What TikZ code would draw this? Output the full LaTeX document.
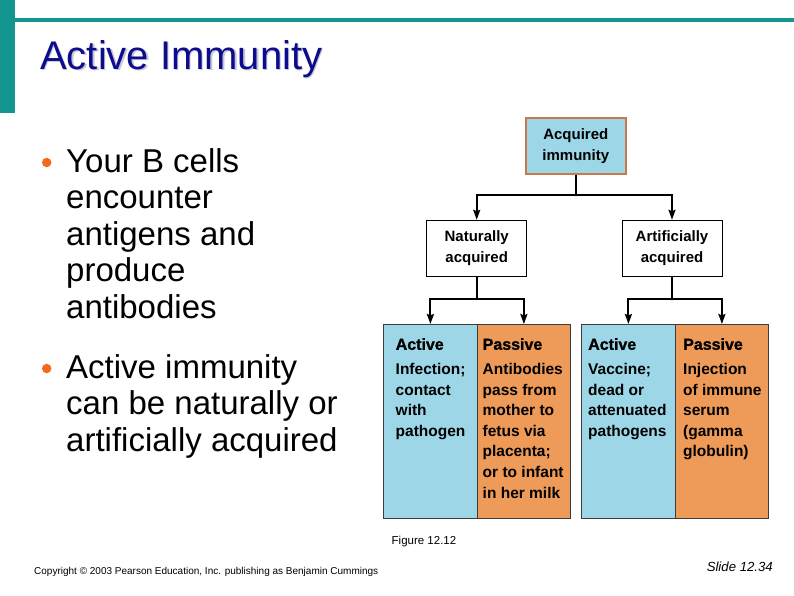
\documentclass[tikz,border=0pt]{standalone}
\usepackage{fontspec}
\setmainfont{Liberation Sans}
\newfontface\heavyface{Liberation Sans Bold}[FakeBold=1.2]
\usetikzlibrary{arrows.meta,positioning}
\definecolor{Teal}{HTML}{12968F}
\definecolor{Navy}{HTML}{0C0C8C}
\definecolor{Shade}{HTML}{C4C6D8}
\definecolor{Dot}{HTML}{F26B1D}
\definecolor{Sky}{HTML}{9DD7E7}
\definecolor{Peach}{HTML}{EE9A58}
\definecolor{Rust}{HTML}{C8784A}
\definecolor{Edge}{HTML}{3C3C3C}
\tikzset{
  dot/.style={circle,fill=Dot,inner sep=0pt,minimum size=9.5pt},
  bullettext/.style={anchor=north west,inner sep=0pt,align=left,font=\fontsize{33}{36.5}\selectfont},
  chart/.style={draw=black,line width=1pt,minimum width=100pt,minimum height=56pt,align=center,inner sep=0pt,font=\bfseries\fontsize{15}{21}\selectfont},
  chartblue/.style={chart,draw=Rust,line width=1.4pt,fill=Sky},
  panel/.style={draw=Edge,line width=0.8pt,minimum height=194pt,inner sep=0pt,anchor=north west},
  panelblue/.style={panel,fill=Sky},
  panelpeach/.style={panel,fill=Peach},
  paneltext/.style={anchor=north west,inner sep=0pt,align=left,font=\bfseries\fontsize{15.5}{20.6}\selectfont},
  arrow/.style={-{Stealth[length=10pt,width=7pt,inset=1.5pt]},line width=2pt,draw=black}
}
\newcommand{\hd}[1]{{\heavyface\fontsize{16}{20}\selectfont #1}}
\begin{document}
\begin{tikzpicture}[x=1pt,y=-1pt]
\useasboundingbox (0,0) rectangle (794,595);
% slide frame
\fill[Teal] (0,0) rectangle (15,113);
\fill[Teal] (15,18) rectangle (794,21.5);
\node[anchor=base west,inner sep=0pt,text=Shade,font=\fontsize{40}{40}\selectfont] at (41.5,70.5) {Active Immunity};
\node[anchor=base west,inner sep=0pt,text=Navy,font=\fontsize{40}{40}\selectfont] (title) at (40,69) {Active Immunity};

% bullets
\node[dot] (d1) at (46.7,162.5) {};
\node[bullettext] (b1) at (66,148) {Your B cells\\encounter\\antigens and\\produce\\antibodies};
\node[dot] (d2) at (46.7,368.5) {};
\node[bullettext] (b2) at (66,354) {Active immunity\\can be naturally or\\artificially acquired};

% chart
\node[chartblue] (acq) at (575.8,145.8) {Acquired\\immunity};
\node[chart] (nat) at (476.7,248.3) {Naturally\\acquired};
\node[chart] (art) at (672,248.3) {Artificially\\acquired};

\node[panelblue,minimum width=94pt] (actN) at (383,324) {};
\node[panelpeach,minimum width=93pt] (pasN) at (477,324) {};
\node[panelblue,minimum width=94pt] (actA) at (581,324) {};
\node[panelpeach,minimum width=93pt] (pasA) at (675,324) {};

\node[paneltext] (tA) at (395.5,338) {\hd{Active}\\[4pt]Infection;\\contact\\with\\pathogen};
\node[paneltext] (tB) at (482.5,338) {\hd{Passive}\\[4pt]Antibodies\\pass from\\mother to\\fetus via\\placenta;\\or to infant\\in her milk};
\node[paneltext] (tC) at (588,338) {\hd{Active}\\[4pt]Vaccine;\\dead or\\attenuated\\pathogens};
\node[paneltext] (tD) at (683,338) {\hd{Passive}\\[4pt]Injection\\of immune\\serum\\(gamma\\globulin)};

\draw[arrow] (acq.south) -- ++(0,20) -| (nat.north);
\draw[arrow] (acq.south) -- ++(0,20) -| (art.north);
\draw[arrow] (nat.south) -- ++(0,22) -| (actN.north);
\draw[arrow] (nat.south) -- ++(0,22) -| (pasN.north);
\draw[arrow] (art.south) -- ++(0,22) -| (actA.north);
\draw[arrow] (art.south) -- ++(0,22) -| (pasA.north);

% footer
\node[anchor=base,inner sep=0pt,font=\fontsize{11.5}{12}\selectfont] (fig) at (424,544) {Figure 12.12};
\node[anchor=base west,inner sep=0pt,font=\fontsize{10}{10}\selectfont] (copy) at (34,574) {Copyright © 2003 Pearson Education, Inc. publishing as Benjamin Cummings};
\node[anchor=base east,inner sep=0pt,font=\itshape\fontsize{13.2}{14}\selectfont] (slide) at (773,571) {Slide 12.34};
\end{tikzpicture}
\end{document}
